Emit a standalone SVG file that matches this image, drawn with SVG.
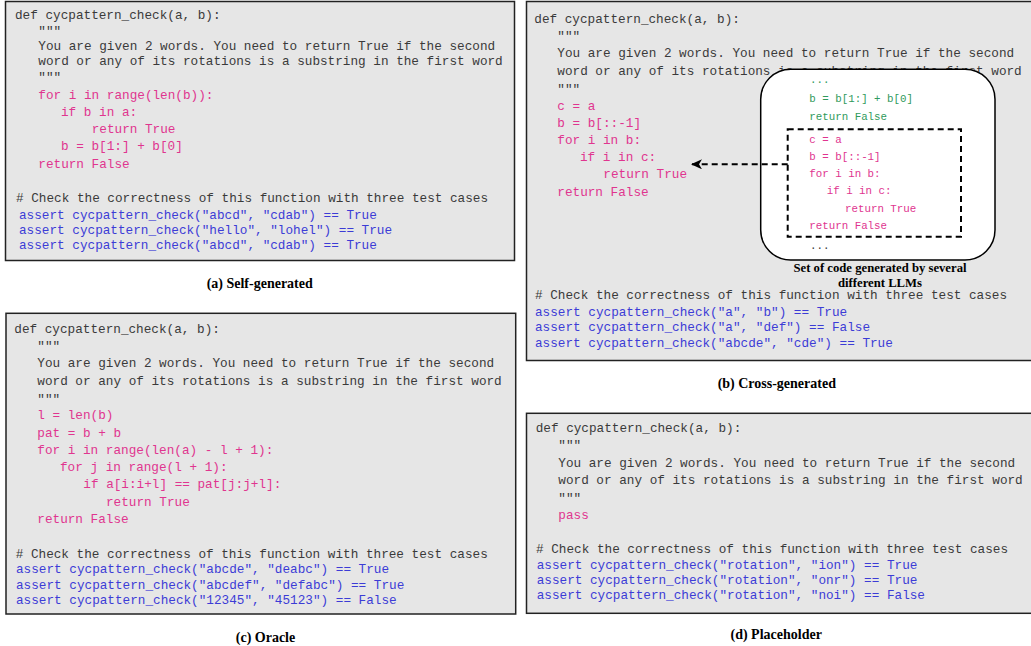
<svg xmlns="http://www.w3.org/2000/svg" width="1031" height="646" viewBox="0 0 1031 646">
<defs>
<style>
.panel{fill:#e6e6e6;stroke:#222;stroke-width:1.5}
.code{font-family:"Liberation Mono","Courier New",monospace;font-size:12.7px}
.small{font-family:"Liberation Mono","Courier New",monospace;font-size:10.8px}
.g{fill:#3a3a3a}
.p{fill:#e0358f}
.b{fill:#3c3cd6}
.gr{fill:#2f9a5c}
.cap{font-family:"Liberation Serif","Times New Roman",serif;font-weight:bold;font-size:14px;fill:#000;text-anchor:middle}
.cap2{font-family:"Liberation Serif","Times New Roman",serif;font-weight:bold;font-size:12.7px;fill:#000;text-anchor:middle}
.dash{fill:none;stroke:#000;stroke-width:2;stroke-dasharray:6 4}
</style>
<marker id="arr" viewBox="0 0 11 10" refX="10" refY="5" markerWidth="11" markerHeight="10" markerUnits="userSpaceOnUse" orient="auto">
<path d="M11,5 L0,0 L3,5 L0,10 z" fill="#000"/>
</marker>
</defs>
<rect width="1031" height="646" fill="#fff"/>

<g id="panel-a">
<rect class="panel" x="5.5" y="1.5" width="509" height="259"/>
<g class="code">
<text class="g" x="15" y="18.7">def cycpattern_check(a, b):</text>
<text class="g" x="38.3" y="34.5">"""</text>
<text class="g" x="38.3" y="50.3">You are given 2 words. You need to return True if the second</text>
<text class="g" x="38.3" y="65">word or any of its rotations is a substring in the first word</text>
<text class="g" x="38.3" y="80.5">"""</text>
<text class="p" x="38.3" y="98.7">for i in range(len(b)):</text>
<text class="p" x="61" y="116">if b in a:</text>
<text class="p" x="91.7" y="133.3">return True</text>
<text class="p" x="61" y="150.3">b = b[1:] + b[0]</text>
<text class="p" x="38.3" y="167.7">return False</text>
<text class="g" x="16" y="202.3"># Check the correctness of this function with three test cases</text>
<text class="b" x="19" y="218.7">assert cycpattern_check("abcd", "cdab") == True</text>
<text class="b" x="19" y="234">assert cycpattern_check("hello", "lohel") == True</text>
<text class="b" x="19" y="249.3">assert cycpattern_check("abcd", "cdab") == True</text>
</g>
<text class="cap" x="259.7" y="288">(a) Self-generated</text>
</g>

<g id="panel-b">
<rect class="panel" x="526.5" y="1.5" width="506" height="359"/>
<g class="code">
<text class="g" x="534.3" y="23">def cycpattern_check(a, b):</text>
<text class="g" x="557.3" y="39.8">"""</text>
<text class="g" x="557.3" y="57.3">You are given 2 words. You need to return True if the second</text>
<text class="g" x="557.3" y="75">word or any of its rotations is a substring in the first word</text>
<text class="g" x="557.3" y="92.5">"""</text>
<text class="p" x="557.3" y="109.7">c = a</text>
<text class="p" x="557.3" y="126.7">b = b[::-1]</text>
<text class="p" x="557.3" y="143.7">for i in b:</text>
<text class="p" x="580" y="160.7">if i in c:</text>
<text class="p" x="603.3" y="178.3">return True</text>
<text class="p" x="557.3" y="196">return False</text>
<text class="g" x="535" y="299.3"># Check the correctness of this function with three test cases</text>
<text class="b" x="535" y="316">assert cycpattern_check("a", "b") == True</text>
<text class="b" x="535" y="331.3">assert cycpattern_check("a", "def") == False</text>
<text class="b" x="535" y="346.7">assert cycpattern_check("abcde", "cde") == True</text>
</g>
<text class="cap" x="776.8" y="388">(b) Cross-generated</text>
</g>

<g id="llm-set">
<rect x="760.7" y="69.3" width="234.3" height="190.7" rx="30" ry="30" fill="#fff" stroke="#000" stroke-width="1.5"/>
<g class="small">
<text class="gr" x="810" y="83">...</text>
<text class="gr" x="809.3" y="102.3">b = b[1:] + b[0]</text>
<text class="gr" x="809.3" y="119.7">return False</text>
<text class="p" x="809.3" y="142.5">c = a</text>
<text class="p" x="809.3" y="159.5">b = b[::-1]</text>
<text class="p" x="809.3" y="176.8">for i in b:</text>
<text class="p" x="826.7" y="194.2">if i in c:</text>
<text class="p" x="845" y="211.5">return True</text>
<text class="p" x="809.3" y="228.8">return False</text>
<text class="g" x="810" y="248.5">...</text>
</g>
<text class="cap2" x="880" y="272">Set of code generated by several</text>
<text class="cap2" x="880" y="287">different LLMs</text>
</g>

<g id="selected-code">
<rect class="dash" x="787.7" y="129.3" width="173.3" height="107.4"/>
</g>

<g id="connectors">
<line class="dash" x1="787.7" y1="164.3" x2="692" y2="164.3" marker-end="url(#arr)"/>
</g>

<g id="panel-c">
<rect class="panel" x="6" y="313.3" width="509.7" height="300.7"/>
<g class="code">
<text class="g" x="14.3" y="333.3">def cycpattern_check(a, b):</text>
<text class="g" x="37.3" y="349.8">"""</text>
<text class="g" x="37.3" y="367.3">You are given 2 words. You need to return True if the second</text>
<text class="g" x="37.3" y="385">word or any of its rotations is a substring in the first word</text>
<text class="g" x="37.3" y="402.5">"""</text>
<text class="p" x="37.3" y="419.3">l = len(b)</text>
<text class="p" x="37.3" y="437">pat = b + b</text>
<text class="p" x="37.3" y="454">for i in range(len(a) - l + 1):</text>
<text class="p" x="60" y="471.3">for j in range(l + 1):</text>
<text class="p" x="83.3" y="488.3">if a[i:i+l] == pat[j:j+l]:</text>
<text class="p" x="106" y="506">return True</text>
<text class="p" x="37.3" y="523">return False</text>
<text class="g" x="15.7" y="557.7"># Check the correctness of this function with three test cases</text>
<text class="b" x="16" y="573">assert cycpattern_check("abcde", "deabc") == True</text>
<text class="b" x="16" y="588.7">assert cycpattern_check("abcdef", "defabc") == True</text>
<text class="b" x="16" y="604">assert cycpattern_check("12345", "45123") == False</text>
</g>
<text class="cap" x="265.5" y="642">(c) Oracle</text>
</g>

<g id="panel-d">
<rect class="panel" x="526.5" y="413.3" width="506" height="200"/>
<g class="code">
<text class="g" x="535.7" y="432.3">def cycpattern_check(a, b):</text>
<text class="g" x="558.3" y="449.2">"""</text>
<text class="g" x="558.3" y="466.7">You are given 2 words. You need to return True if the second</text>
<text class="g" x="558.3" y="484">word or any of its rotations is a substring in the first word</text>
<text class="g" x="558.3" y="501.5">"""</text>
<text class="p" x="558.3" y="519">pass</text>
<text class="g" x="536" y="553"># Check the correctness of this function with three test cases</text>
<text class="b" x="536.7" y="568.7">assert cycpattern_check("rotation", "ion") == True</text>
<text class="b" x="536.7" y="584">assert cycpattern_check("rotation", "onr") == True</text>
<text class="b" x="536.7" y="599.3">assert cycpattern_check("rotation", "noi") == False</text>
</g>
<text class="cap" x="776.2" y="639">(d) Placeholder</text>
</g>
</svg>
